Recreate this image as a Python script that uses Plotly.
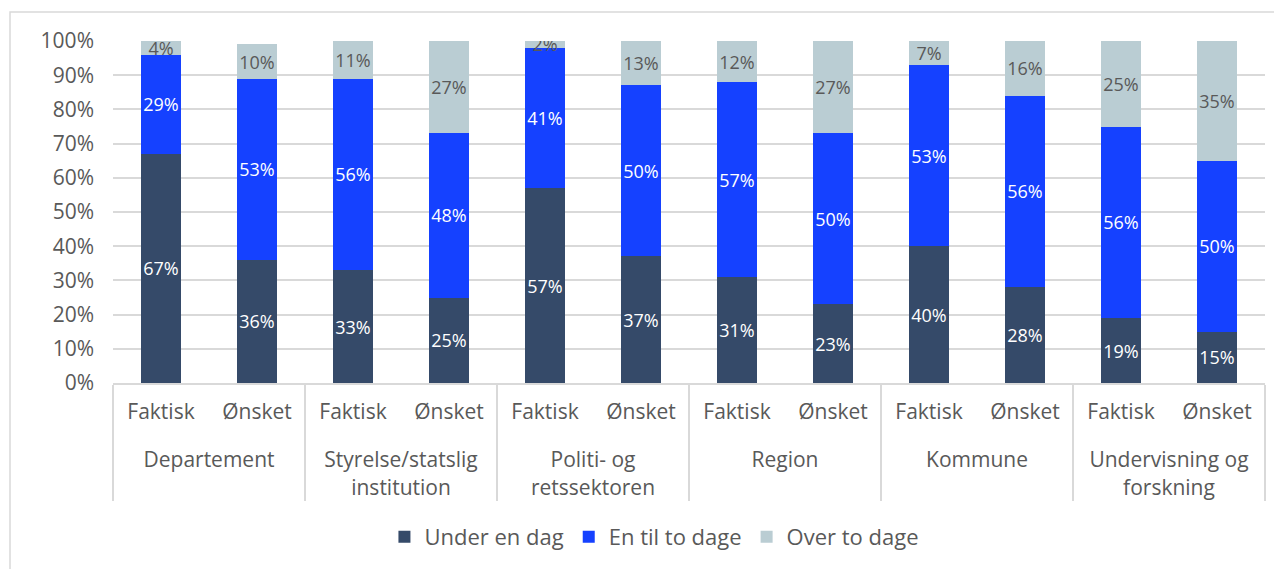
import plotly.graph_objects as go

sektorer = ["Departement", "Styrelse/statslig<br>institution", "Politi- og<br>retssektoren",
            "Region", "Kommune", "Undervisning og<br>forskning"]
typer = ["Faktisk", "Ønsket"]

under_en_dag = [67, 36, 33, 25, 57, 37, 31, 23, 40, 28, 19, 15]
en_til_to = [29, 53, 56, 48, 41, 50, 57, 50, 53, 56, 56, 50]
over_to = [4, 10, 11, 27, 2, 13, 12, 27, 7, 16, 25, 35]

# leading <br> pushes the group labels down a bit, like in the original
niveau1 = ["<br>" + s for s in sektorer for _ in typer]
niveau2 = [t for _ in sektorer for t in typer]
x = [niveau1, niveau2]

grey = "#595959"
fnt = "Open Sans"

fig = go.Figure()
serier = [
    ("Under en dag", under_en_dag, "#354A69", "white"),
    ("En til to dage", en_til_to, "#1541FF", "white"),
    ("Over to dage", over_to, "#BACDD3", grey),
]
for navn, vals, farve, tekstfarve in serier:
    fig.add_trace(go.Bar(
        x=x, y=vals, name=navn,
        marker=dict(color=farve, line=dict(width=0)),
        text=[f"{v}%" for v in vals],
        textposition="inside",
        insidetextanchor="middle",
        textangle=0,
        textfont=dict(color=tekstfarve, size=18, family=fnt),
    ))

# page body has an 8px margin, so plot area is offset accordingly
fig.update_layout(
    barmode="stack",
    bargap=0.59,
    width=1282, height=569,
    margin=dict(l=105, r=25, t=33, b=194),
    paper_bgcolor="white",
    plot_bgcolor="white",
    font=dict(family=fnt, color=grey, size=21),
    uniformtext=dict(minsize=18, mode="show"),
    showlegend=True,
    legend=dict(orientation="h", x=0.47, xanchor="center", y=-0.45, yanchor="middle",
                font=dict(size=22, color=grey), traceorder="normal"),
    shapes=[dict(type="rect", xref="paper", yref="paper",
                 x0=-0.0894, x1=1.013, y0=-0.75, y1=1.085,
                 line=dict(color="#d9d9d9", width=1.5), layer="below")],
)
fig.update_yaxes(
    range=[0, 100], dtick=10, ticksuffix="%",
    showgrid=True, gridcolor="#d9d9d9", gridwidth=1.5,
    zeroline=False, tickfont=dict(size=21, color=grey),
    ticklabelstandoff=18, automargin=False,
)
fig.update_xaxes(
    type="multicategory", automargin=False,
    showline=True, linecolor="#d9d9d9", linewidth=1.5,
    showdividers=True, dividercolor="#d9d9d9", dividerwidth=1.5,
    tickfont=dict(size=21, color=grey),
    ticklabelstandoff=9,
)

fig.write_html("out.html")
